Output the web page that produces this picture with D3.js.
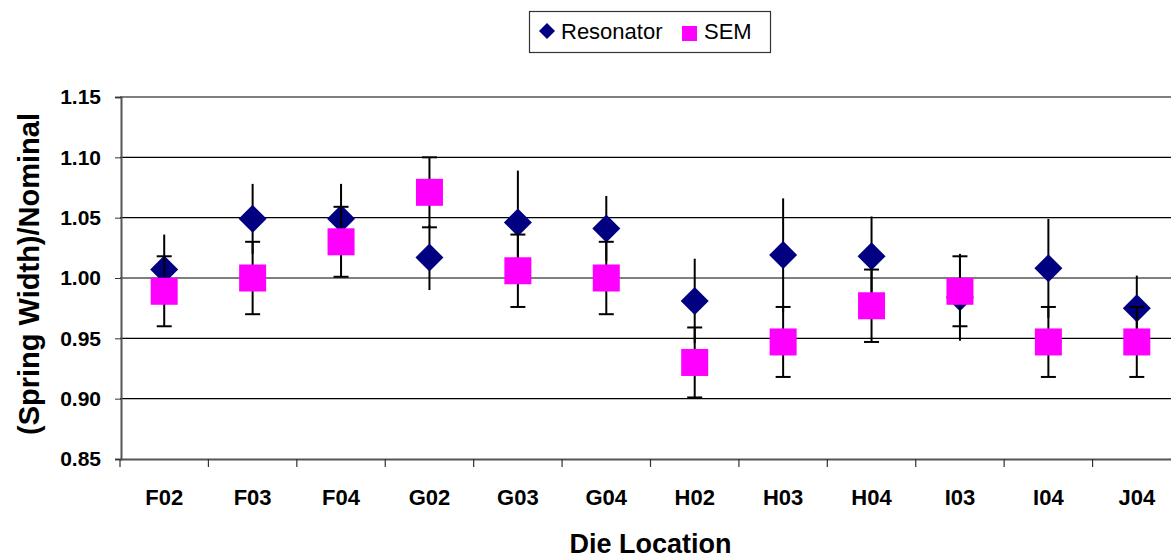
<html>
  <head>
    <meta charset="utf-8">
    <title>Spring Width by Die Location</title>
    <style>
    body{
      margin: 0;
      background-color: white;
    }
    text{
      font-family: Arial, "Liberation Sans", sans-serif;
    }
    </style>
    <script src="https://d3js.org/d3.v7.min.js"></script>
  </head>
  <body>
    <div id="container"></div>
    <script>
    //size of svg chart area
    const width = 1171,
          height = 558;

    //values
    var categories = ["F02","F03","F04","G02","G03","G04","H02","H03","H04","I03","I04","J04"];
    var resonator = [1.007, 1.049, 1.049, 1.017, 1.046, 1.041, 0.981, 1.019, 1.018, 0.984, 1.008, 0.975];
    var resonatorErr = [0.029, 0.029, 0.029, 0.027, 0.043, 0.027, 0.035, 0.047, 0.033, 0.036, 0.041, 0.027];
    var sem = [0.989, 1.000, 1.030, 1.071, 1.006, 1.000, 0.930, 0.947, 0.977, 0.989, 0.947, 0.947];
    var semErr = [0.029, 0.030, 0.029, 0.029, 0.030, 0.030, 0.029, 0.029, 0.030, 0.029, 0.029, 0.029];
    var yTicks = [0.85, 0.90, 0.95, 1.00, 1.05, 1.10, 1.15];

    //plot area (right side runs past the window like the original)
    //note: "top" is taken by window.top, so the names are prefixed
    const plotLeft = 120, plotRight = 1181, plotTop = 97, plotBottom = 459;

    var svg = d3.select("#container")
      .append("svg")
      .attr("width", width)
      .attr("height", height)
      .style("display", "block");

    var x = d3.scaleBand().domain(categories).range([plotLeft, plotRight]).padding(0);
    var y = d3.scaleLinear().domain([0.85, 1.15]).range([plotBottom, plotTop]);

    //horizontal gridlines
    svg.append("g").selectAll("line")
      .data(yTicks.slice(1))
      .enter()
      .append("line")
      .attr("x1", plotLeft)
      .attr("x2", plotRight)
      .attr("y1", function(d) {return y(d);})
      .attr("y2", function(d) {return y(d);})
      .attr("stroke", "#000")
      .attr("stroke-width", 1.2);

    //y axis
    var yAxis = svg.append("g")
      .attr("transform", "translate(" + (plotLeft + 1) + ",0)")
      .call(d3.axisLeft(y).tickValues(yTicks).tickFormat(d3.format(".2f")).tickSize(6).tickPadding(14));
    yAxis.select(".domain").attr("stroke", "#555").attr("stroke-width", 2);
    yAxis.selectAll(".tick line").attr("stroke", "#333");
    yAxis.selectAll(".tick text")
      .attr("fill", "#000")
      .style("font-size", "21px")
      .style("font-weight", "bold");

    //x axis line + labels (ticks drawn at the category boundaries below)
    var xAxis = svg.append("g")
      .attr("transform", "translate(0," + plotBottom + ")")
      .call(d3.axisBottom(x).tickSize(0).tickPadding(30));
    xAxis.select(".domain").attr("stroke", "#555").attr("stroke-width", 2);
    xAxis.selectAll(".tick text")
      .attr("fill", "#000")
      .style("font-size", "22px")
      .style("font-weight", "bold");

    svg.append("g").selectAll("line")
      .data(categories)
      .enter()
      .append("line")
      .attr("x1", function(d) {return x(d);})
      .attr("x2", function(d) {return x(d);})
      .attr("y1", plotBottom)
      .attr("y2", plotBottom + 8)
      .attr("stroke", "#333")
      .attr("stroke-width", 1.2);

    //axis titles
    svg.append("text")
      .attr("x", (plotLeft + plotRight) / 2)
      .attr("y", 553)
      .attr("text-anchor", "middle")
      .style("font-size", "27px")
      .style("font-weight", "bold")
      .text("Die Location");

    svg.append("text")
      .attr("transform", "translate(39," + ((plotTop + plotBottom) / 2 - 4) + ") rotate(-90)")
      .attr("text-anchor", "middle")
      .style("font-size", "29px")
      .style("font-weight", "bold")
      .text("(Spring Width)/Nominal");

    function cx(i){
      return x(categories[i]) + x.bandwidth() / 2;
    }

    //resonator error bars (no caps)
    svg.append("g").selectAll("line")
      .data(resonator)
      .enter()
      .append("line")
      .attr("x1", function(d, i) {return cx(i);})
      .attr("x2", function(d, i) {return cx(i);})
      .attr("y1", function(d, i) {return y(d + resonatorErr[i]);})
      .attr("y2", function(d, i) {return y(d - resonatorErr[i]);})
      .attr("stroke", "#000")
      .attr("stroke-width", 2);

    //resonator diamonds
    svg.append("g").selectAll("path")
      .data(resonator)
      .enter()
      .append("path")
      .attr("transform", function(d, i) {return "translate(" + cx(i) + "," + y(d) + ")";})
      .attr("d", "M0,-14L14,0L0,14L-14,0Z")
      .attr("fill", "#000080");

    //sem error bars with caps
    var semBars = svg.append("g").selectAll("g")
      .data(sem)
      .enter()
      .append("g");
    semBars.append("line")
      .attr("x1", function(d, i) {return cx(i);})
      .attr("x2", function(d, i) {return cx(i);})
      .attr("y1", function(d, i) {return y(d + semErr[i]);})
      .attr("y2", function(d, i) {return y(d - semErr[i]);})
      .attr("stroke", "#000")
      .attr("stroke-width", 2);
    semBars.append("line")
      .attr("x1", function(d, i) {return cx(i) - 7.5;})
      .attr("x2", function(d, i) {return cx(i) + 7.5;})
      .attr("y1", function(d, i) {return y(d + semErr[i]);})
      .attr("y2", function(d, i) {return y(d + semErr[i]);})
      .attr("stroke", "#000")
      .attr("stroke-width", 2);
    semBars.append("line")
      .attr("x1", function(d, i) {return cx(i) - 7.5;})
      .attr("x2", function(d, i) {return cx(i) + 7.5;})
      .attr("y1", function(d, i) {return y(d - semErr[i]);})
      .attr("y2", function(d, i) {return y(d - semErr[i]);})
      .attr("stroke", "#000")
      .attr("stroke-width", 2);

    //sem squares
    svg.append("g").selectAll("rect")
      .data(sem)
      .enter()
      .append("rect")
      .attr("x", function(d, i) {return cx(i) - 13.5;})
      .attr("y", function(d) {return y(d) - 13.5;})
      .attr("width", 27)
      .attr("height", 27)
      .attr("fill", "#ff00ff");

    //legend
    var legend = svg.append("g");
    legend.append("rect")
      .attr("x", 529.5)
      .attr("y", 11.5)
      .attr("width", 241)
      .attr("height", 41)
      .attr("fill", "white")
      .attr("stroke", "#333")
      .attr("stroke-width", 1.2);
    legend.append("path")
      .attr("transform", "translate(547,31)")
      .attr("d", "M0,-8L8,0L0,8L-8,0Z")
      .attr("fill", "#000080");
    legend.append("text")
      .attr("x", 561)
      .attr("y", 39)
      .style("font-size", "22px")
      .text("Resonator");
    legend.append("rect")
      .attr("x", 682)
      .attr("y", 26)
      .attr("width", 15)
      .attr("height", 15)
      .attr("fill", "#ff00ff");
    legend.append("text")
      .attr("x", 704)
      .attr("y", 39)
      .style("font-size", "22px")
      .text("SEM");
    </script>
  </body>
</html>
